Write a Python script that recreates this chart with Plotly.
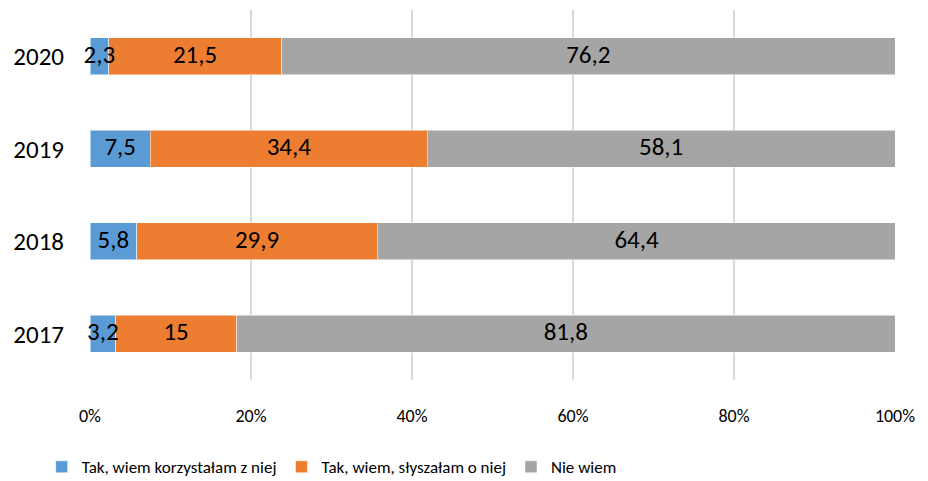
import plotly.graph_objects as go

years = ['2017', '2018', '2019', '2020']
used = [3.2, 5.8, 7.5, 2.3]
heard = [15, 29.9, 34.4, 21.5]
dont_know = [81.8, 64.4, 58.1, 76.2]

series = [
    ('Tak, wiem korzystałam z niej', used, '#5B9BD5'),
    ('Tak, wiem, słyszałam o niej', heard, '#ED7D31'),
    ('Nie wiem', dont_know, '#A5A5A5'),
]

x_ticks = [0, 20, 40, 60, 80, 100]


def pl(v):
    # Polish decimal comma
    return f'{v:g}'.replace('.', ',')


fig = go.Figure()
for name, vals, color in series:
    fig.add_trace(go.Bar(
        y=years,
        x=vals,
        name=name,
        orientation='h',
        marker=dict(color=color, line=dict(color='rgba(255,255,255,0.5)', width=1)),
        hovertemplate='%{y}: %{x}<extra>' + name + '</extra>',
    ))

# value labels drawn on top of all bars (so the tiny 2,3 can spill over)
lab_x, lab_y, lab_t = [], [], []
for i, y in enumerate(years):
    start = 0
    for _, vals, _ in series:
        lab_x.append(start + vals[i] / 2)
        lab_y.append(y)
        lab_t.append(pl(vals[i]))
        start += vals[i]

fig.add_trace(go.Scatter(
    x=lab_x,
    y=lab_y,
    text=lab_t,
    mode='text',
    textposition='middle center',
    textfont=dict(color='black', size=25),
    showlegend=False,
    hoverinfo='skip',
    cliponaxis=False,
))

fig.update_layout(
    barmode='stack',
    bargap=0.6,
    width=928,
    height=481,
    paper_bgcolor='white',
    plot_bgcolor='white',
    font=dict(family='Carlito, Calibri, Lato', size=25, color='black'),
    margin=dict(l=90, r=33, t=10, b=101, autoexpand=False),
    xaxis=dict(
        range=[0, 100],
        tickvals=x_ticks,
        ticktext=[f'{t}%' for t in x_ticks],
        showgrid=True,
        gridcolor='#D9D9D9',
        gridwidth=2,
        zeroline=False,
        showline=False,
        ticks='',
        ticklabelstandoff=23,
        tickfont=dict(size=18),
    ),
    yaxis=dict(
        showgrid=False,
        zeroline=False,
        showline=False,
        ticks='',
        ticklabelstandoff=25,
    ),
    legend=dict(
        orientation='h',
        x=-0.06,
        xanchor='left',
        y=-0.187,
        yanchor='top',
        font=dict(size=17),
        itemwidth=30,
        traceorder='normal',
    ),
)

fig.write_html('out.html', config={'displayModeBar': False},
               post_script="document.body.style.margin='0';")
